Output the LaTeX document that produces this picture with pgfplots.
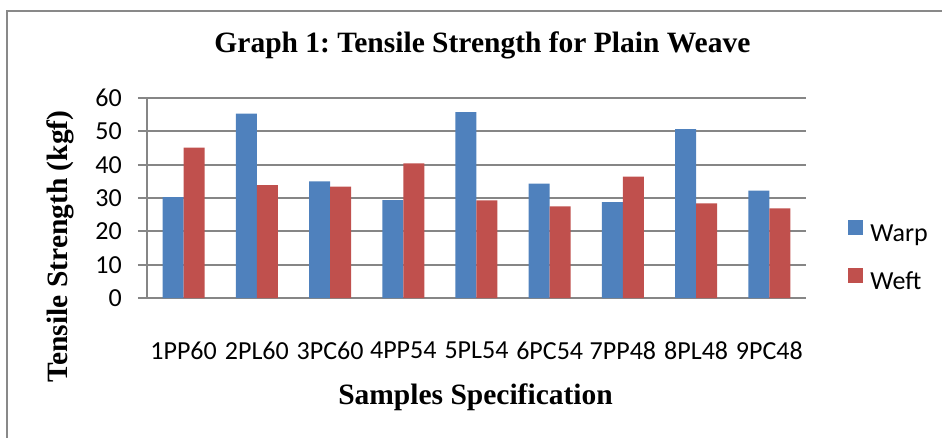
\documentclass[border=0pt]{standalone}
\usepackage{fontspec}
\setmainfont{Liberation Serif}
\newfontfamily\calibri{Carlito}
\usepackage{pgfplots}
\usepackage{pgfplotstable}
\pgfplotsset{compat=1.18}
\definecolor{warp}{HTML}{4F81BD}
\definecolor{weft}{HTML}{C0504D}
\definecolor{gridgray}{RGB}{134,134,134}
\definecolor{framegray}{RGB}{137,137,137}
\pgfplotstableread{
x warp weft
1 30.3 45.1
2 55.3 33.9
3 35.0 33.4
4 29.4 40.4
5 55.8 29.3
6 34.3 27.5
7 28.8 36.4
8 50.7 28.4
9 32.2 26.9
}\datatable
\frenchspacing
\begin{document}
\begin{tikzpicture}[x=1pt,y=1pt]
\useasboundingbox (0,0) rectangle (942,437);
\draw[framegray,line width=2pt] (7,-40) -- (7,426) -- (990,426);
\begin{axis}[
  at={(147pt,139pt)}, anchor=south west,
  width=659pt, height=200pt, scale only axis,
  ybar=0pt, bar width=21pt,
  xmin=0.5, xmax=9.5, ymin=0, ymax=60,
  xtick={1,...,9},
  xticklabels={1PP60,2PL60,3PC60,4PP54,5PL54,6PC54,7PP48,8PL48,9PC48},
  ytick={0,10,...,60},
  axis x line*=bottom, axis y line*=left,
  axis line style={-, draw=gridgray, line width=1.8pt},
  ymajorgrids, grid style={draw=gridgray, line width=1.9pt},
  tick align=outside, major tick length=9pt,
  ytick style={draw=gridgray, line width=1.9pt},
  xtick style={draw=none},
  /pgf/number format/assume math mode=true,
  tick label style={font=\calibri\fontsize{26}{30}\selectfont, inner sep=0pt},
  yticklabel style={anchor=east, xshift=-16pt},
  xticklabel style={anchor=north, yshift=-34.7pt},
  title={Graph 1: Tensile Strength for Plain Weave},
  title style={at={(axis description cs:0.509,1.2)}, anchor=base, font=\bfseries\fontsize{29.5}{34}\selectfont, inner sep=0pt},
  xlabel={Samples Specification},
  xlabel style={at={(axis description cs:0.4985,-0.53)}, anchor=base, font=\bfseries\fontsize{29.5}{34}\selectfont, inner sep=0pt},
  ylabel={Tensile Strength (kgf)},
  ylabel style={at={(axis description cs:-0.1199,0.2575)}, anchor=base, font=\bfseries\fontsize{29.5}{34}\selectfont, inner sep=0pt},
  legend style={at={(axis description cs:1.064,0.2125)}, anchor=west, draw=none, fill=none,
    font=\calibri\fontsize{26}{30}\selectfont, inner sep=0pt, row sep=25pt,
    nodes={inner sep=0pt}},
  legend cell align=left,
  legend image code/.code={\fill[#1] (0pt,-1.3pt) rectangle (15pt,13.7pt);},
]
\addplot[fill=warp, draw=none] table[x=x, y=warp] {\datatable};
\addplot[fill=weft, draw=none] table[x=x, y=weft] {\datatable};
\legend{\hspace{7pt}Warp,\hspace{7pt}Weft}
\end{axis}
\end{tikzpicture}
\end{document}
